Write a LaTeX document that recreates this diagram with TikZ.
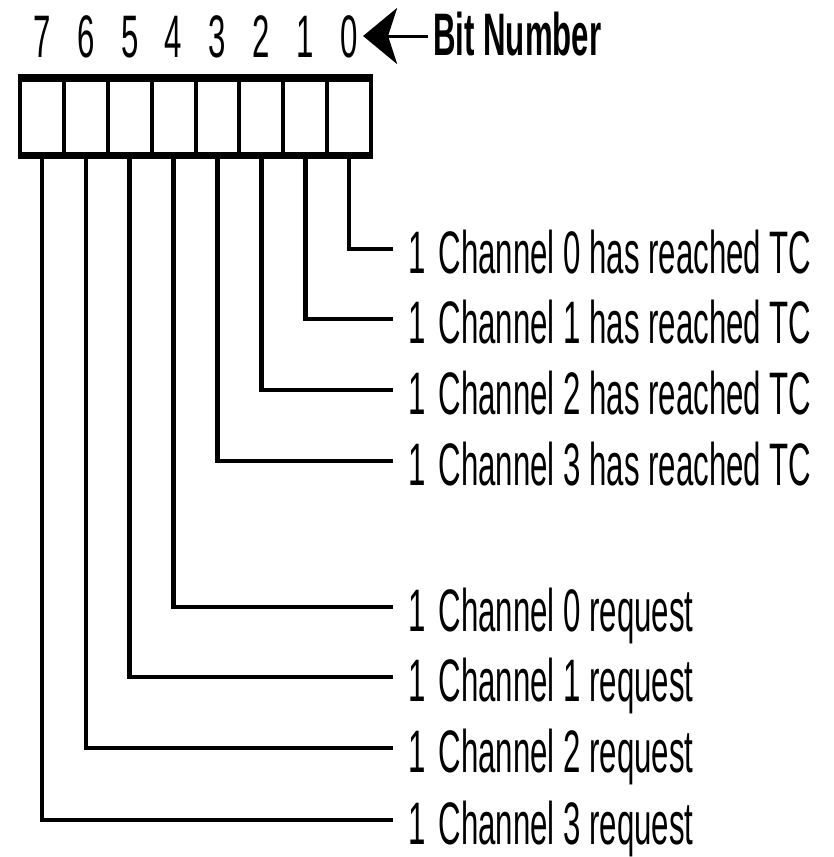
\documentclass[tikz,border=0pt]{standalone}
\usepackage{fontspec}
\setmainfont{Liberation Sans}
\newfontfamily\narrowfont[FakeStretch=0.52]{Liberation Sans}
\usetikzlibrary{arrows.meta}

\tikzset{
    cell/.style={draw, line width=4pt, outer sep=0pt, inner sep=0pt,
        minimum width=43.9pt, minimum height=77.5pt},
    bitdigit/.style={font=\narrowfont\fontsize{60}{60}\selectfont, inner xsep=5pt,
        inner ysep=0pt, text height=44pt, text depth=0pt},
    bitlabel/.style={font=\narrowfont\bfseries\fontsize{60}{60}\selectfont, inner xsep=5pt,
        inner ysep=0pt, text height=38pt, text depth=0pt},
    flag/.style={font=\narrowfont\fontsize{60}{60}\selectfont, anchor=west, inner xsep=15pt,
        inner ysep=0pt, text height=49pt, text depth=0pt},
    wire/.style={line width=4.5pt},
    pointer/.style={line width=3pt, -{Stealth[length=34pt, width=56pt, inset=9pt]}}
}

\begin{document}
\begin{tikzpicture}[x=1pt, y=-1pt]
    \useasboundingbox (0,0) rectangle (833,857);

    % Registre 8 bits
    \foreach \b [evaluate=\b as \x using {41.9+43.9*(7-\b)}] in {0,...,7} {
        \node[cell] (b\b) at (\x, 116.75) {};
        \node[bitdigit, anchor=base] (d\b) at (\x, 57) {\b};
    }
    \draw[line width=8pt] ([xshift=-2pt]b7.north west) -- ([xshift=2pt]b0.north east);
    \draw[line width=7pt] ([xshift=-2pt]b7.south west) -- ([xshift=2pt]b0.south east);

    \node[bitlabel, anchor=base west] (bitnum) at (428, 55) {Bit Number};
    \draw[pointer] (bitnum.west) -- (bitnum.west -| d0.east);

    % Fin de comptage
    \foreach \b/\y in {0/249, 1/319, 2/390, 3/461} {
        \node[flag] (f\b) at (393, \y) {1\hspace{13pt}Channel \b\ has reached TC};
        \draw[wire] (b\b.south) |- (f\b.west);
    }

    % Requêtes
    \foreach \b/\y in {4/607, 5/677, 6/748, 7/820} {
        \pgfmathtruncatemacro{\ch}{\b-4}
        \node[flag] (f\b) at (393, \y) {1\hspace{13pt}Channel \ch\ request};
        \draw[wire] (b\b.south) |- (f\b.west);
    }
\end{tikzpicture}
\end{document}
